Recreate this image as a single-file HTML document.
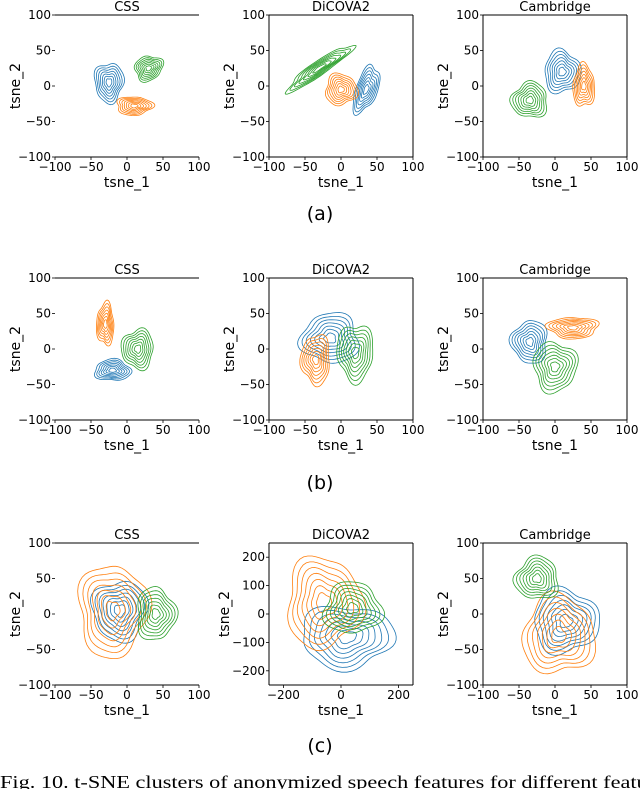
<!DOCTYPE html>
<html><head><meta charset="utf-8">
<style>
body{margin:0;background:#fff;width:640px;height:789px;overflow:hidden}
svg{display:block}
text{font-family:"DejaVu Sans","Liberation Sans",sans-serif;fill:#000}
</style></head>
<body>
<svg id="fig" width="640" height="789" viewBox="0 0 640 789"></svg>
<script>
// ---- data: one array per field, 9 subplots (rows a,b,c x CSS, DiCOVA2, Cambridge) ----
const titles = ["CSS","DiCOVA2","Cambridge","CSS","DiCOVA2","Cambridge","CSS","DiCOVA2","Cambridge"];
const axisRange = [100,100,100,100,100,100,100,250,100];
const tickSmall = [-100,-50,0,50,100];
const tickLarge = [-200,0,200];
const tickLargeY = [-200,-100,0,100,200];
const seriesColors = ["#1f77b4","#ff7f0e","#2ca02c"];
// cluster centres / radii in data units per subplot, order: blue, orange, green
const clusterCx = [[-25,10,30],[35,0,-30],[10,40,-35],[-20,-30,15],[-15,-35,20],[-35,25,0],[-10,-20,40],[20,-60,40],[15,5,-25]];
const clusterCy = [[5,-28,25],[-5,-5,25],[20,0,-20],[-30,35,0],[15,-15,-5],[10,30,-25],[5,5,0],[-80,40,20],[-10,-30,50]];
const clusterRx = [[20,25,20],[15,22,55],[25,15,25],[25,12,22],[40,20,25],[25,35,30],[38,48,27],[160,130,100],[45,50,30]];
const clusterRy = [[28,13,17],[35,22,10],[30,30,25],[15,30,28],[35,35,40],[30,15,35],[42,65,37],[110,160,90],[45,55,30]];
const clusterAngle = [[0,0,30],[-20,0,35],[0,0,0],[0,0,0],[0,0,0],[0,0,0],[0,0,0],[0,0,0],[0,0,0]];
const subLabels = ["(a)","(b)","(c)"];

const NS="http://www.w3.org/2000/svg";
const svg=document.getElementById("fig");
function mk(tag,attrs,parent){const e=document.createElementNS(NS,tag);for(const k in attrs)e.setAttribute(k,attrs[k]);(parent||svg).appendChild(e);return e;}

const colLeft=[55,269,483], rowTop=[15,278,543], W=144, H=142;
const rowLabelY=[220,489,752];

for(let i=0;i<9;i++){
  const r=Math.floor(i/3), c=i%3;
  const x0=colLeft[c], y0=rowTop[r], R=axisRange[i];
  const sx=v=>x0+(v+R)/(2*R)*W, sy=v=>y0+H-(v+R)/(2*R)*H;
  const g=mk("g",{});
  
  
  for(let k=0;k<3;k++){
    const cx=clusterCx[i][k],cy=clusterCy[i][k],rx=clusterRx[i][k],ry=clusterRy[i][k],ang=clusterAngle[i][k]*Math.PI/180;
    const cg=mk("g",{fill:"none",stroke:seriesColors[k],"stroke-width":0.8},g);
    
    
    const levels=[1,0.86,0.73,0.6,0.47,0.34,0.2];
    levels.forEach((L,li)=>{
      let d="";
      for(let t=0;t<=64;t++){
        const a=t/64*2*Math.PI;
        const w=1+0.1*Math.sin(3*a+k+i)+0.06*Math.cos(5*a+i*2+li*0.3);
        const px=Math.cos(a)*rx*L*w, py=Math.sin(a)*ry*L*w;
        const X=cx+px*Math.cos(ang)-py*Math.sin(ang), Y=cy+px*Math.sin(ang)+py*Math.cos(ang);
        d+=(t?"L":"M")+sx(X).toFixed(1)+","+sy(Y).toFixed(1);
      }
      const p=mk("path",{d:d+"Z"},cg);
      
      
    });
  }
  const sp=mk("g",{stroke:"#000","stroke-width":1,fill:"none"},g);
  
  
  mk("line",{x1:x0,y1:y0,x2:x0+W,y2:y0},sp);
  mk("line",{x1:x0,y1:y0+H,x2:x0+W,y2:y0+H},sp);
  if(c!==0){mk("line",{x1:x0,y1:y0,x2:x0,y2:y0+H},sp);mk("line",{x1:x0+W,y1:y0,x2:x0+W,y2:y0+H},sp);}
  const xt=R>100?tickLarge:tickSmall, yt=R>100?tickLargeY:tickSmall;
  xt.forEach(v=>{
    mk("line",{x1:sx(v),y1:y0+H,x2:sx(v),y2:y0+H+3,stroke:"#000","stroke-width":0.8},g);
    const t=mk("text",{x:sx(v),y:y0+H+14,"font-size":12,"text-anchor":"middle"},g);
    t.textContent=v<0?"\u2212"+(-v):String(v);
    
    
  });
  yt.forEach(v=>{
    mk("line",{x1:x0-3,y1:sy(v),x2:x0,y2:sy(v),stroke:"#000","stroke-width":0.8},g);
    const t=mk("text",{x:x0-4,y:sy(v)+4,"font-size":12,"text-anchor":"end"},g);
    t.textContent=v<0?"\u2212"+(-v):String(v);
    
    
  });
  const tt=mk("text",{x:x0+W/2,y:y0-4,"font-size":13,"text-anchor":"middle"},g);
  tt.textContent=titles[i];
  
  
  const xl=mk("text",{x:x0+W/2,y:y0+H+30,"font-size":14,"text-anchor":"middle"},g);
  xl.textContent="tsne_1";
  
  
  const yx=x0-(R>100?40:35), yy=y0+H/2;
  const yl=mk("text",{x:yx,y:yy,"font-size":14,"text-anchor":"middle",transform:`rotate(-90 ${yx} ${yy})`},g);
  yl.textContent="tsne_2";
  
  
}
subLabels.forEach((s,r)=>{
  const t=mk("text",{x:320,y:rowLabelY[r],"font-size":19,"text-anchor":"middle"});
  t.textContent=s;
  
  
});
const cap=mk("text",{x:0,y:788,"font-size":18,textLength:665,lengthAdjust:"spacingAndGlyphs",style:"font-family:'Liberation Serif',serif"});
cap.textContent="Fig. 10.  t-SNE clusters of anonymized speech features for different feature";


</script>
</body></html>
